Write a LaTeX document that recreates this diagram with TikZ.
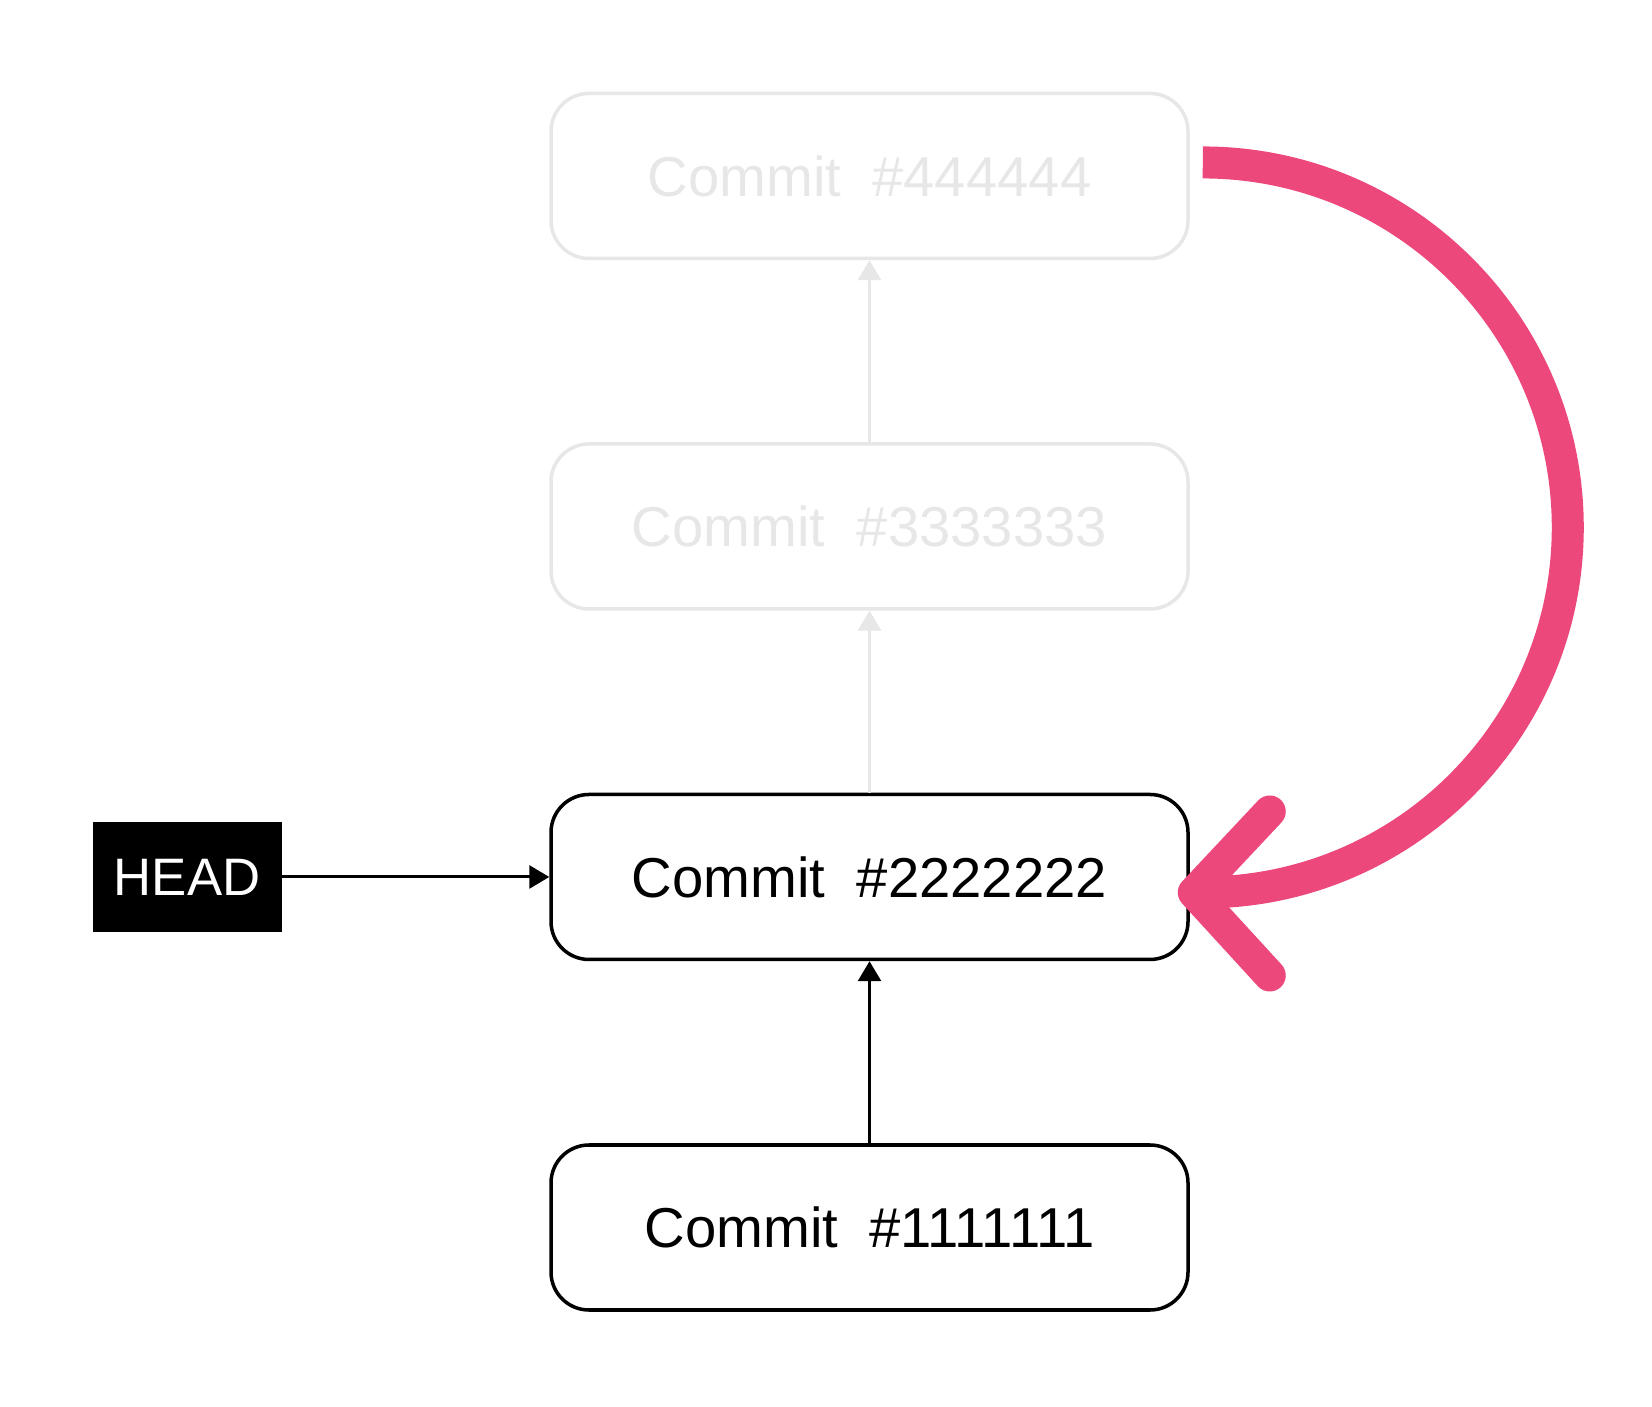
\documentclass[tikz,border=0pt]{standalone}
\usepackage{fontspec}
\setmainfont{Liberation Sans}
\usetikzlibrary{positioning, arrows.meta}
\definecolor{fadegray}{RGB}{231,231,231}
\definecolor{resetpink}{RGB}{236,72,124}
\tikzset{
  commit/.style={draw, line width=1pt, rounded corners=0.38cm, minimum width=6.37cm, minimum height=1.65cm, font=\fontsize{16}{19}\selectfont},
  faded/.style={draw=fadegray, text=fadegray},
  headbox/.style={fill=black, text=white, minimum width=1.89cm, minimum height=1.1cm, font=\fontsize{15}{18}\selectfont},
  link/.style={line width=0.85pt, -{Triangle[length=0.2cm, width=0.23cm]}},
}
\begin{document}
\begin{tikzpicture}
        \useasboundingbox (0,0) rectangle (16.52,14.06);
        % Commits
        \node[commit] (c1) at (8.695,1.785) {Commit\ \ \#1111111};
        \node[commit, above=1.82cm of c1] (c2) {Commit\ \ \#2222222};
        \node[commit, faded, above=1.82cm of c2] (c3) {Commit\ \ \#3333333};
        \node[commit, faded, above=1.82cm of c3] (c4) {Commit\ \ \#444444};
        % HEAD
        \node[headbox, left=2.67cm of c2] (head) {HEAD};
        % Parent links
        \draw[link] (c1) -- (c2);
        \draw[link, fadegray] (c2) -- (c3);
        \draw[link, fadegray] (c3) -- (c4);
        \draw[link] (head) -- (c2);
        % Reset arc
        \coordinate (tip) at ([xshift=0.04cm, yshift=-0.155cm]c2.east);
        \draw[resetpink, line width=0.32cm, line join=round] ([xshift=0.13cm, yshift=0.135cm]c4.east) arc[start angle=90, end angle=-90, radius=3.65cm] -- (tip);
        \draw[resetpink, line width=0.32cm, line cap=round, line join=round] ([shift={(0.76cm,0.81cm)}]tip) -- (tip) -- ([shift={(0.76cm,-0.83cm)}]tip);
    \end{tikzpicture}
\end{document}
